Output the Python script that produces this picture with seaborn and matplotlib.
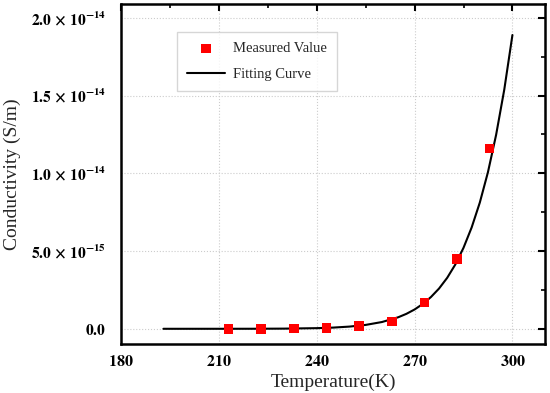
import numpy as np
import pandas as pd
import matplotlib
matplotlib.use("Agg")
import matplotlib.pyplot as plt
import seaborn as sns
from matplotlib.ticker import MultipleLocator, FuncFormatter

# measured points
temp_meas = [213, 223, 233, 243, 253, 263, 273, 283, 293]
cond_meas = [2e-18, 6e-18, 2e-17, 6e-17, 1.8e-16, 4.8e-16, 1.7e-15, 4.5e-15, 1.16e-14]

# fitting curve
temp_fit = [193, 200, 210, 220, 230, 240, 245, 250, 255, 260, 265, 267.5, 270,
            272.5, 275, 277.5, 280, 282.5, 285, 287.5, 290, 292.5, 295, 297.5, 300]
cond_fit = [2.4e-20, 9.0e-20, 5.2e-19, 2.55e-18, 1.09e-17, 4.13e-17, 7.7e-17,
            1.41e-16, 2.50e-16, 4.36e-16, 7.43e-16, 9.63e-16, 1.242e-15,
            1.595e-15, 2.04e-15, 2.59e-15, 3.28e-15, 4.14e-15, 5.21e-15,
            6.52e-15, 8.12e-15, 10.08e-15, 12.48e-15, 15.39e-15, 18.9e-15]

xticks = [180, 210, 240, 270, 300]
yticks = [0, 5e-15, 1e-14, 1.5e-14, 2e-14]

sns.set_style("white")
plt.rcParams['font.family'] = ['Liberation Serif', 'DejaVu Serif']
plt.rcParams['mathtext.fontset'] = 'stix'

meas = pd.DataFrame({'T': temp_meas, 'sigma': cond_meas})
fit = pd.DataFrame({'T': temp_fit, 'sigma': cond_fit})

fig = plt.figure(figsize=(5.5, 3.93), dpi=100)
ax = fig.add_axes([0.22, 0.125, 0.771, 0.865])

sns.lineplot(data=fit, x='T', y='sigma', color='black', lw=1.5, ax=ax,
             label='Fitting Curve', zorder=2)
sns.scatterplot(data=meas, x='T', y='sigma', marker='s', color='#ff0000', s=48,
                edgecolor='none', ax=ax, label='Measured Value', zorder=3)

ax.set_xlim(180, 310)
ax.set_ylim(-0.97e-15, 2.09e-14)
ax.set_xticks(xticks)
ax.set_yticks(yticks)
ax.xaxis.set_minor_locator(MultipleLocator(15))
ax.yaxis.set_minor_locator(MultipleLocator(2.5e-15))


def yfmt(v, pos):
    if abs(v) < 1e-20:
        return r"$\mathbf{0.0}$"
    exp = int(np.floor(np.log10(abs(v))))
    mant = v / 10 ** exp
    return r"$\mathbf{%.1f\,\times\,10^{%d}}$" % (mant, exp)


ax.yaxis.set_major_formatter(FuncFormatter(yfmt))
ax.xaxis.set_major_formatter(FuncFormatter(lambda v, p: r"$\mathbf{%d}$" % v))

ax.grid(True, which='major', linestyle=':', color='#cccccc', lw=0.8)
ax.set_axisbelow(True)
for s in ax.spines.values():
    s.set_visible(True)
    s.set_color('black')
    s.set_linewidth(1.8)
ax.tick_params(which='both', direction='in', top=True, right=True, colors='black')
ax.tick_params(which='major', length=5, width=1.5)
ax.tick_params(which='minor', length=3, width=1.2)
ax.tick_params(axis='y', labelsize=11.2, pad=11)
ax.tick_params(axis='x', labelsize=11.5, pad=7)

ax.set_xlabel('Temperature(K)', fontsize=14, labelpad=3)
ax.set_ylabel('Conductivity (S/m)', fontsize=14)
ax.yaxis.set_label_coords(-0.237, 0.5)

h, l = ax.get_legend_handles_labels()
leg = ax.legend(h[::-1], l[::-1], loc='upper left', bbox_to_anchor=(0.132, 0.918),
                borderaxespad=0, fontsize=10.5, frameon=True, fancybox=False,
                edgecolor='#cccccc', handlelength=2.6, handletextpad=0.55,
                borderpad=0.7, labelspacing=0.85)
leg.get_frame().set_linewidth(1.0)

fig.savefig('out.png', dpi=100, facecolor='white')
